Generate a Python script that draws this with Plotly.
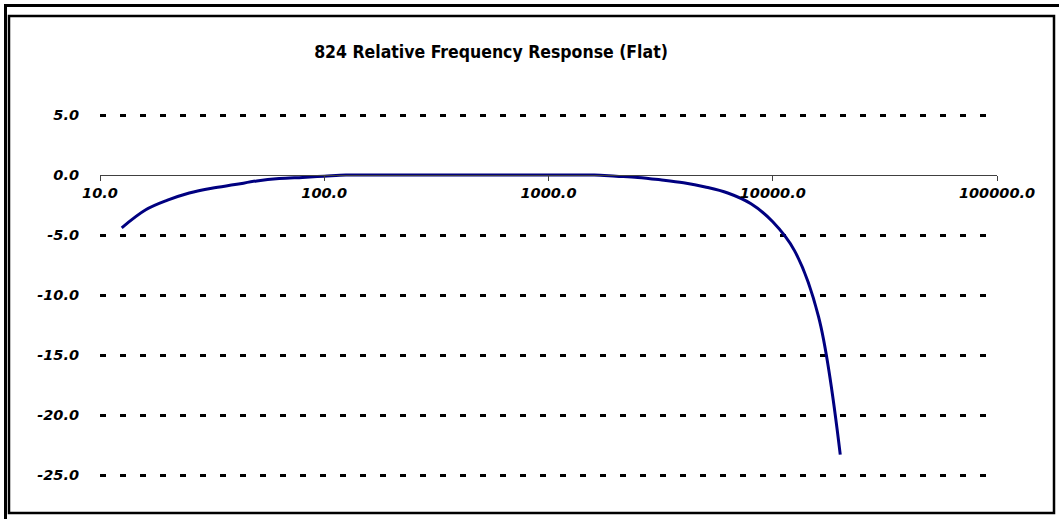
import plotly.graph_objects as go

# Data
freqs = [12.5, 16, 20, 25, 31.5, 40, 50, 63, 80, 100, 125, 160, 200, 250, 315, 400,
         500, 630, 800, 1000, 1250, 1600, 2000, 2500, 3150, 4000, 5000, 6300, 8000,
         10000, 12500, 16000, 20000]
response = [-4.4, -2.9, -2.1, -1.5, -1.1, -0.8, -0.5, -0.3, -0.2, -0.1, 0.0, 0.0, 0.0,
            0.0, 0.0, 0.0, 0.0, 0.0, 0.0, 0.0, 0.0, 0.0, -0.1, -0.2, -0.4, -0.65, -1.0,
            -1.5, -2.4, -3.9, -6.3, -11.8, -23.3]

x_tickvals = [10, 100, 1000, 10000, 100000]
x_ticktext = ["10.0", "100.0", "1000.0", "10000.0", "100000.0"]
y_tickvals = [5, 0, -5, -10, -15, -20, -25]
y_ticktext = ["5.0", "0.0", "-5.0", "-10.0", "-15.0", "-20.0", "-25.0"]
title_text = "824 Relative Frequency Response (Flat)"

W, H = 1059, 519
PAD = 0.25  # small range padding so the edge gridlines are drawn
PXU = 12    # pixels per dB
L, R = 100, 62
T = int(115 - PAD * PXU)
B = int(44 - PAD * PXU)
PW, PH = W - L - R, H - T - B
y_lo, y_hi = -25 - PAD, 5 + PAD


def px(x):
    return (x - L) / PW


def py(y):
    return (H - B - y) / PH


fig = go.Figure()
fig.add_trace(go.Scatter(
    x=freqs, y=response, mode="lines",
    line=dict(color="#000080", width=3, shape="spline", smoothing=1.0),
    showlegend=False, hoverinfo="x+y",
))

tickfont = dict(family="DejaVu Sans", size=14.5, color="black", weight="bold", style="italic")

fig.update_layout(
    width=W, height=H,
    margin=dict(l=L, r=R, t=T, b=B),
    paper_bgcolor="white", plot_bgcolor="white",
    title=dict(text=title_text, x=491 / W, xref="container", xanchor="center",
               y=1 - 52 / H, yref="container", yanchor="middle",
               font=dict(family="DejaVu Sans Condensed, DejaVu Sans", size=17.5,
                         color="black", weight="bold")),
    xaxis=dict(type="log", range=[1, 5], tickvals=x_tickvals, ticktext=x_ticktext,
               showgrid=False, zeroline=False, showline=True, linecolor="#404040",
               linewidth=1, ticks="outside", ticklen=5, tickcolor="#404040",
               tickwidth=1, anchor="free", position=(0 - y_lo) / (y_hi - y_lo),
               tickfont=tickfont),
    yaxis=dict(range=[y_lo, y_hi], tickvals=y_tickvals, ticktext=y_ticktext,
               showgrid=True, gridcolor="black", gridwidth=2.5, griddash="6px,14px",
               zeroline=True, zerolinecolor="#404040", zerolinewidth=1,
               showline=False, ticks="", ticklabelstandoff=20, tickfont=tickfont),
    shapes=[
        # outer thick frame lines (top and left)
        dict(type="line", xref="paper", yref="paper", x0=px(4), x1=px(1059),
             y0=py(5.5), y1=py(5.5), line=dict(color="black", width=3)),
        dict(type="line", xref="paper", yref="paper", x0=px(5.5), x1=px(5.5),
             y0=py(4), y1=py(519), line=dict(color="black", width=3)),
        # inner chart border
        dict(type="rect", xref="paper", yref="paper", x0=px(9), x1=px(1054),
             y0=py(16), y1=py(513), line=dict(color="black", width=2.5)),
    ],
)

fig.write_html("out.html")
